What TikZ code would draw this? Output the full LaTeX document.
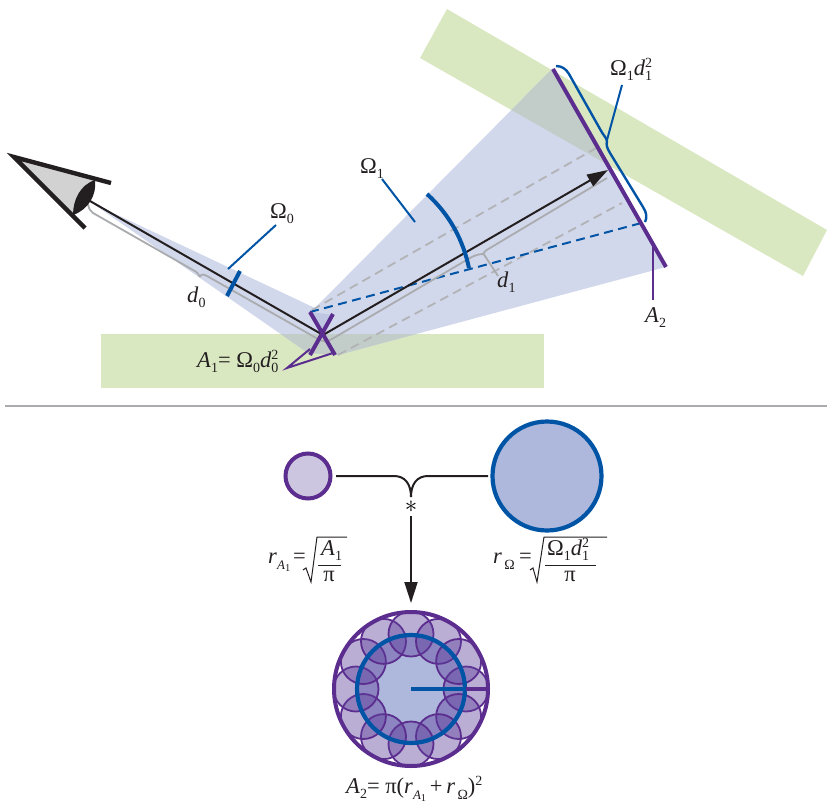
\documentclass[tikz,border=0pt]{standalone}
\usepackage{fontspec}
\setmainfont{Liberation Serif}
\usetikzlibrary{arrows.meta}
\definecolor{gr}{HTML}{DAE8C2}
\definecolor{cone}{HTML}{D2D8EB}
\definecolor{conedark}{HTML}{BEC6E2}
\definecolor{over}{HTML}{C2CDC9}
\definecolor{pur}{HTML}{5B2D8E}
\definecolor{petalfill}{HTML}{5F3F9C}
\definecolor{blu}{HTML}{0054A6}
\definecolor{ink}{HTML}{231F20}
\definecolor{gry}{HTML}{A9ABAE}
\definecolor{diskb}{HTML}{ADB8DC}
\definecolor{diskp}{HTML}{CDC6E0}
\newcommand{\lbfont}{\fontsize{22.5}{24}\selectfont}
\newcommand{\smf}{\fontsize{14}{15}\selectfont}
\newcommand{\dn}[1]{\raisebox{-5pt}{\smf #1}}
\newcommand{\both}[2]{\rlap{\raisebox{8pt}{\smf #1}}\raisebox{-5pt}{\smf #2}}
\newcommand{\rAone}{\textit{r}\raisebox{-6pt}{\fontsize{13}{14}\selectfont\textit{A}\raisebox{-2.5pt}{\fontsize{10.5}{11}\selectfont 1}}}
\newcommand{\rOm}{\textit{r}\raisebox{-6pt}{\fontsize{14}{15}\selectfont\,Ω}}
\tikzset{
  lab/.style={inner sep=0pt,anchor=base west,font=\lbfont,text=ink},
  grayline/.style={draw=gry,line width=1.8pt},
  graydash/.style={draw=gry!90,line width=1.8pt,dash pattern=on 9pt off 5.5pt},
  bluedash/.style={draw=blu,line width=2pt,dash pattern=on 9pt off 5.5pt},
  blackline/.style={draw=ink,line width=2pt},
  thinblue/.style={draw=blu,line width=2pt},
  thinpur/.style={draw=pur,line width=2pt},
  thickpur/.style={draw=pur,line width=4pt},
  thickblu/.style={draw=blu,line width=4pt},
  radical/.style={draw=ink,line width=1pt},
  petal/.style={draw=pur,line width=1.8pt,fill=petalfill,fill opacity=.42},
  tip/.style={-{Triangle[length=21pt,width=13pt]}}
}
\begin{document}
\begin{tikzpicture}[x=1pt,y=-1pt]
\useasboundingbox (0,0) rectangle (827,806);
\def\polyA{(92,203)--(315,308)--(338,355)--(308,353)--cycle}
\def\polyB{(315,308)--(553,68)--(666,267)--(338,355)--cycle}
\def\greenT{(447,9)--(827,230)--(803,276)--(420,58)--cycle}
\def\greenB{(101,334) rectangle (544,388)}
% backgrounds
\fill[gr] \greenT;
\fill[gr] \greenB;
\fill[cone] \polyA;
\fill[cone] \polyB;
\fill[conedark] (311,312)--(333,315)--(323,335)--cycle;
\begin{scope}\clip \greenT; \fill[over] \polyB; \end{scope}
\begin{scope}\clip \greenB; \fill[over] \polyA; \fill[over] \polyB; \end{scope}
% named points
\coordinate (eyeL) at (90,201);
\coordinate (mirror) at (323,335);
\coordinate (target) at (608,170);
\coordinate (a1a) at (310,312);
\coordinate (a1b) at (335,355);
\coordinate (a1c) at (333,314);
\coordinate (a1d) at (310,355);
\coordinate (a2a) at (553,69);
\coordinate (a2b) at (666,267);
% gray dashes
\draw[graydash] (312,310)--(598,147);
\draw[graydash] (338,355)--(622,203);
\draw[bluedash] (a1a)--(645,222);
% gray braces
\draw[grayline] (88,204) .. controls (89,209) and (90,211) .. (93,213) -- (193,270) .. controls (197,272) and (199,274) .. (200,277);
\draw[grayline] (200,277) .. controls (201,274) and (203,274) .. (207,276) -- (318,339) .. controls (323,342) and (327,342) .. (332,339) -- (470,258) .. controls (475,255) and (480,254) .. (483,254);
\draw[grayline] (483,254) .. controls (484,252) and (486,250) .. (490,248) -- (607,178);
\draw[grayline] (483,253)--(498,276);
% rays
\draw[blackline] (eyeL)--(mirror);
\draw[blackline,tip] (mirror)--(target);
% eye
\fill[fill=gray!35!white] (14,158)--(95,180)--(73,215)--cycle;
\draw[draw=ink,line width=4.4pt,line cap=butt] (111,183)--(14,157)--(85,228);
\fill[ink] (95,180) .. controls (80,185) and (73,200) .. (73,215) .. controls (88,210) and (97,195) .. (95,180)--cycle;
% blue marks
\draw[thickblu] (240,271)--(227,296);
\draw[thinblue] (276,225)--(228,269);
\draw[thinblue] (382,179)--(415,222);
\draw[thickblu] (427,194) .. controls (450,215) and (463,240) .. (469,268);
\draw[thinblue] (622,85)--(607,140);
\draw[draw=blu,line width=2.4pt] (556,66) .. controls (562,66) and (566,69) .. (569,74) -- (600,129) .. controls (603,135) and (606,137) .. (607,141) .. controls (606,145) and (607,148) .. (610,153) -- (643,207) .. controls (647,213) and (647,218) .. (645,222);
% purple marks
\draw[thickpur] (a1a)--(a1b);
\draw[thickpur] (a1c)--(a1d);
\draw[thinpur] (310,349)--(287,368)--(333,353);
\draw[thickpur] (a2a)--(a2b);
\draw[thinpur] (653,246)--(653,300);
% top labels
\node[lab] (omega0) at (270,218) {Ω\dn{0}};
\node[lab] (dzero) at (187,302) {\textit{d}\dn{0}};
\node[lab] (omega1) at (360,173) {Ω\dn{1}};
\node[lab] (done) at (497,287) {\textit{d}\dn{1}};
\node[lab] (a2lab) at (645,322) {\textit{A}\dn{2}};
\node[lab] (oneDtwo) at (610,75) {Ω\dn{1}\textit{d}\both{2}{1}};
\node[lab] (a1lab) at (197,367) {\textit{A}\dn{1}= Ω\dn{0}\textit{d}\both{2}{0}};
% separator
\draw[draw=gry,line width=1.2pt] (5,406)--(827,406);
% lower part
\node[circle,draw=pur,line width=4pt,fill=diskp,minimum size=45pt,inner sep=0pt] (small) at (308,476) {};
\node[circle,draw=blu,line width=4.2pt,fill=diskb,minimum size=109pt,inner sep=0pt] (large) at (547,476) {};
\node[inner sep=0pt,font=\fontsize{32}{32}\selectfont] (star) at (411,507) {$\ast$};
\coordinate (joinL) at (336,476);
\coordinate (joinR) at (488,476);
\coordinate (joinD) at (411,497);
\draw[blackline] (joinL)--(394,476) .. controls (405,476) and (411,484) .. (joinD);
\draw[blackline] (joinR)--(428,476) .. controls (417,476) and (411,484) .. (joinD);
\coordinate (final) at (411,603);
\draw[blackline,tip] (411,516)--(final);
% formula r_A1
\node[lab] (ra) at (268,563) {\rAone};
\node[lab] (raeq) at (293,563) {=};
\draw[radical] (303,570)--(306,568)--(311,582)--(317,537)--(347,537);
\node[lab] (ranum) at (321,555) {\textit{A}\dn{1}};
\draw[radical] (318,565)--(341,565);
\node[lab,anchor=base] (rapi) at (329,581) {π};
% formula r_Omega
\node[lab] (ro) at (493,563) {\rOm};
\node[lab] (roeq) at (519,563) {=};
\draw[radical] (530,570)--(533,568)--(537,582)--(544,537)--(607,537);
\node[lab] (ronum) at (547,555) {Ω\dn{1}\textit{d}\both{2}{1}};
\draw[radical] (545,565)--(596,565);
\node[lab,anchor=base] (ropi) at (570,581) {π};
% composite disk
\coordinate (cc) at (411,689);
\fill[white] (cc) circle[radius=77];
\fill[diskb] (cc) circle[radius=55];
\foreach \a in {0,30,...,330}{
  \path[petal] (cc) ++(\a:55) circle[radius=22.5];
}
\draw[draw=blu,line width=4.2pt] (cc) circle[radius=54];
\draw[draw=pur,line width=4pt] (cc) circle[radius=77];
\coordinate (rim) at (488,689);
\coordinate (ringpt) at (466,689);
\draw[thickblu,line cap=butt] (cc)--(ringpt);
\draw[thickpur,line cap=butt] (ringpt)--(rim);
\node[lab] (a2f) at (346,793) {\textit{A}\dn{2}= π(\rAone\,+\,\rOm)\raisebox{8pt}{\smf 2}};
\end{tikzpicture}
\end{document}
